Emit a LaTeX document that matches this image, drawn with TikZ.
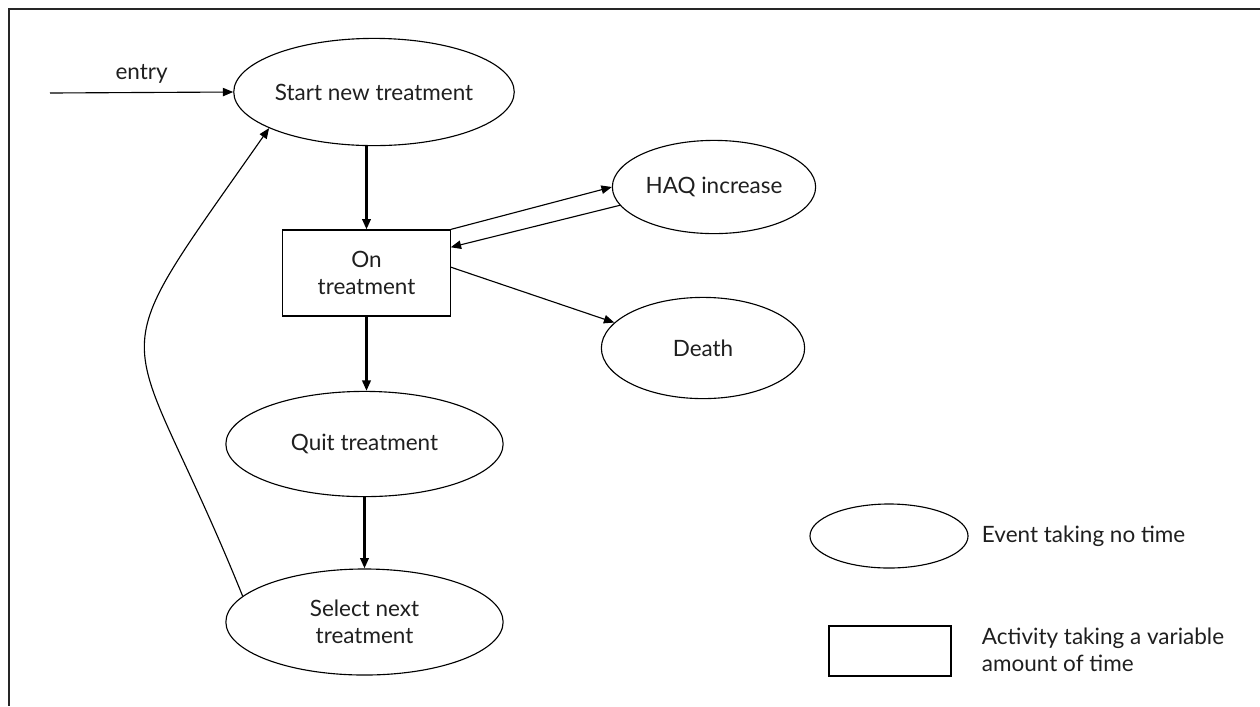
\documentclass[tikz,border=0pt]{standalone}
\usepackage{fontspec}
\setmainfont{Lato}
\usepackage{tikz}
\usetikzlibrary{arrows.meta}
\usetikzlibrary{shapes}

\begin{document}
\begin{tikzpicture}[x=0.025cm, y=-0.025cm,
    >={Triangle[length=2.6mm, width=2.1mm]},
    every node/.style={text=black!88, font=\fontsize{16}{19.5}\selectfont},
    event/.style={ellipse, draw, line width=0.8pt, inner sep=0pt},
    activity/.style={rectangle, draw, line width=0.8pt, inner sep=0pt, align=center},
    link/.style={->, line width=0.8pt},
    mainlink/.style={->, line width=1.7pt}]
    \useasboundingbox (0,0) rectangle (1260,706);
    \draw[line width=1.3pt, black!85] (1260,9) -- (9,9) -- (9,706);

    \node[event, minimum width=6.95cm, minimum height=2.68cm] (start) at (374,92) {Start new treatment};
    \node[activity, minimum width=4.18cm, minimum height=2.15cm] (on) at (366.5,273) {On\\treatment};
    \node[event, minimum width=5.08cm, minimum height=2.33cm] (haq) at (714,187) {HAQ increase};
    \node[event, minimum width=5.08cm, minimum height=2.53cm] (death) at (703,348) {Death};
    \node[event, minimum width=6.93cm, minimum height=2.63cm] (quit) at (364.5,444) {Quit treatment};
    \node[event, minimum width=6.93cm, minimum height=2.65cm, align=center] (select) at (364.5,622) {Select next\\treatment};
    \coordinate (entry) at (50,93);

    \draw[link] (entry) -- (start.west) node[midway, above=3pt] {entry};
    \draw[mainlink] (start.south -| on.north) -- (on.north);
    \draw[mainlink] (on.south) -- (quit.north -| on.south);
    \draw[mainlink] (quit.south) -- (select.north);
    \draw[link] (on.north east) -- (haq.west);
    \draw[link] (haq.191) -- (on.17);
    \draw[link] (on.4) -- (death.164);
    \draw[link] (select.168) to[out=112, in=235, looseness=1.7] (start.199);

    % legend
    \node[event, minimum width=3.95cm, minimum height=1.6cm] (evkey) at (889,536) {};
    \node[anchor=west] (evtext) at (977,536) {Event taking no time};
    \node[activity, minimum width=3.05cm, minimum height=1.25cm] (actkey) at (890,651) {};
    \node[anchor=west, align=left] (acttext) at (977,650) {Activity taking a variable\\amount of time};
\end{tikzpicture}
\end{document}
